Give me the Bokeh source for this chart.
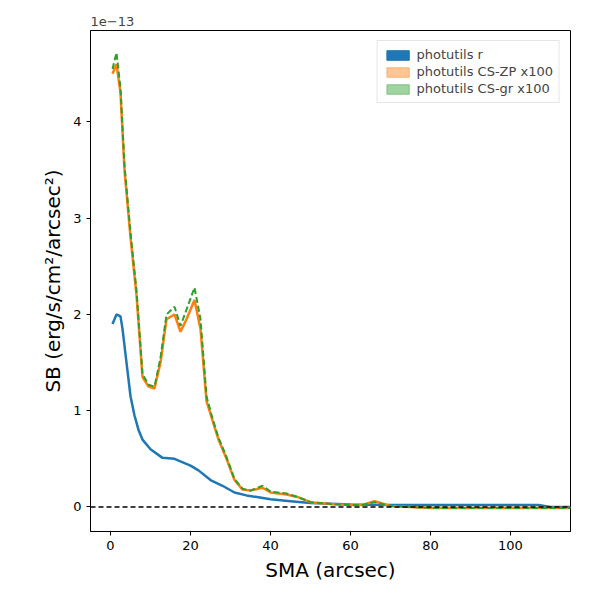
from bokeh.plotting import figure
from bokeh.models import Span, Legend, LegendItem, FixedTicker, Title
from bokeh.embed import file_html
from bokeh.resources import INLINE

# values in units of 1e-13
sma_r = [0.5,1.5,2.5,3,4,5,6,7,8,10,13,16,20,22,25,28,31,34,37,40,45,50,60,70,80,100,107,110,115]
sb_r = [1.9,2.0,1.98,1.85,1.5,1.15,0.95,0.8,0.7,0.6,0.51,0.5,0.43,0.38,0.28,0.22,0.15,0.12,0.1,0.08,0.06,0.04,0.025,0.02,0.02,0.02,0.02,0.0,0.0]
sma_cs = [0.5,1.5,2.5,3.5,5,6.5,8,9.5,11,12.5,14,16,17.5,19,21,22.5,24,25.5,27,29,31,33,35,38,40,44,47,50,55,60,63,66,70,80,100,115]
sb_zp = [4.5,4.6,4.3,3.5,2.8,2.2,1.35,1.25,1.23,1.5,1.95,2.0,1.82,1.95,2.15,1.85,1.1,0.9,0.7,0.5,0.28,0.18,0.17,0.2,0.15,0.13,0.1,0.05,0.03,0.02,0.02,0.06,0.01,-0.01,-0.01,-0.01]
sb_gr = [4.55,4.72,4.35,3.55,2.85,2.25,1.38,1.27,1.25,1.55,2.0,2.08,1.88,2.05,2.28,1.95,1.15,0.92,0.72,0.52,0.29,0.19,0.17,0.22,0.16,0.14,0.1,0.05,0.03,0.02,0.02,0.05,0.01,-0.01,-0.01,-0.01]
labels = ["photutils r", "photutils CS-ZP x100", "photutils CS-gr x100"]
colors = ["#1f77b4", "#ff7f0e", "#2ca02c"]

p = figure(width=584, height=584, output_backend="svg", toolbar_location=None,
           x_range=(-5, 115), y_range=(-0.255, 4.95),
           min_border_left=90, min_border_top=30, min_border_right=14, min_border_bottom=44)
p.add_layout(Title(text="1e−13", align="left", text_font="DejaVu Sans",
                   text_font_size="13px", text_font_style="normal"), "above")
p.grid.visible = False
p.outline_line_color = "black"
p.xaxis.ticker = FixedTicker(ticks=[0, 20, 40, 60, 80, 100])
p.yaxis.ticker = FixedTicker(ticks=[0, 1, 2, 3, 4])
for ax in (p.xaxis[0], p.yaxis[0]):
    ax.major_label_text_font = "DejaVu Sans"
    ax.major_label_text_font_size = "13px"
    ax.major_label_text_color = "black"
    ax.axis_label_text_font = "DejaVu Sans"
    ax.axis_label_text_font_size = "20px"
    ax.axis_label_text_font_style = "normal"
    ax.axis_label_text_color = "black"
    ax.minor_tick_line_color = None
    ax.major_tick_in = 0
    ax.major_tick_out = 4
p.xaxis.axis_label = "SMA (arcsec)"
p.yaxis.axis_label = "SB (erg/s/cm²/arcsec²)"

p.add_layout(Span(location=0, dimension="width", line_color="black", line_dash="5 3", line_width=1.5))
p.line(sma_r, sb_r, line_color=colors[0], line_width=2.5)
p.line(sma_cs, sb_zp, line_color=colors[1], line_width=2.5)
p.line(sma_cs, sb_gr, line_color=colors[2], line_width=2, line_dash="6 3")

nan = float("nan")
items = []
for lab, c, a in zip(labels, colors, [1.0, 0.45, 0.45]):
    r = p.quad(left=[nan], right=[nan], top=[nan], bottom=[nan],
               fill_color=c, fill_alpha=a, line_color=c, line_alpha=a)
    items.append(LegendItem(label=lab, renderers=[r]))
leg = Legend(items=items, location="top_right", label_text_font="DejaVu Sans",
             label_text_font_size="13px", border_line_color="#cccccc", spacing=2,
             padding=6, glyph_height=12, glyph_width=28, label_height=12)
p.add_layout(leg)

open("out.html", "w").write(file_html(p, INLINE))
